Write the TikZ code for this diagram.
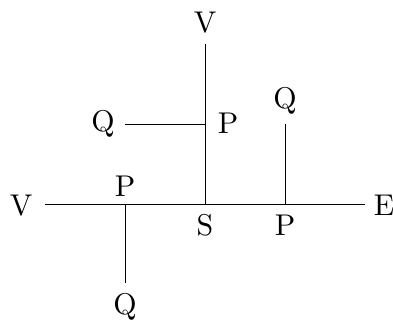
\documentclass[tikz,border=0pt]{standalone}
\usepackage{graphicx}
\begin{document}
\begin{tikzpicture}[x=1pt,y=-1pt,
  lbl/.style={anchor=base,inner sep=0pt,font=\fontsize{10}{12}\selectfont},
  edge/.style={line width=0.9pt,black}]
\useasboundingbox (0,0) rectangle (393,320);
% labels
\node[lbl] (vtop) at (205,33) {\scalebox{3}{V}};
\node[lbl] (qleft) at (103,132) {\scalebox{3}{Q}};
\node[lbl] (pmid) at (228,134) {\scalebox{3}{P}};
\node[lbl] (qright) at (285,109) {\scalebox{3}{Q}};
\node[lbl] (vleft) at (21,215) {\scalebox{3}{V}};
\node[lbl] (pleft) at (125,197) {\scalebox{3}{P}};
\node[lbl] (e) at (384,215) {\scalebox{3}{E}};
\node[lbl] (s) at (205,236) {\scalebox{3}{S}};
\node[lbl] (pbot) at (285,236) {\scalebox{3}{P}};
\node[lbl] (qbot) at (125,314) {\scalebox{3}{Q}};
% line ends and junctions
\coordinate (vtopend) at (205,44);
\coordinate (js) at (205,204);
\coordinate (jpm) at (205,124);
\coordinate (qleftend) at (125,124);
\coordinate (jpr) at (285,204);
\coordinate (qrightend) at (285,124);
\coordinate (vleftend) at (45,204);
\coordinate (eend) at (365,204);
\coordinate (jpl) at (125,204);
\coordinate (qbotend) at (125,283);
% connectors
\draw[edge] (vleftend) -- (eend);
\draw[edge] (vtopend) -- (js);
\draw[edge] (qleftend) -- (jpm);
\draw[edge] (qrightend) -- (jpr);
\draw[edge] (jpl) -- (qbotend);
\end{tikzpicture}
\end{document}
